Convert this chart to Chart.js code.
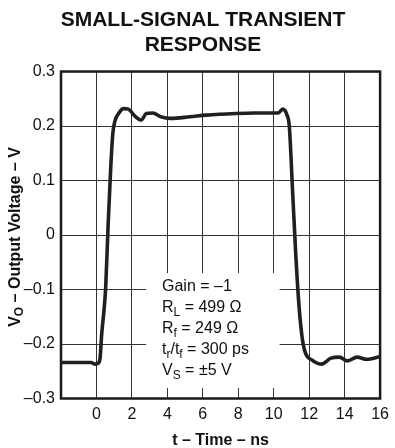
<!DOCTYPE html>
<html>
<head>
<meta charset="utf-8">
<script src="https://cdn.jsdelivr.net/npm/chart.js@4"></script>
<style>
  html, body { margin: 0; padding: 0; background: #fff; }
  #wrap { width: 395px; height: 448px; position: relative; }
</style>
</head>
<body>
<div id="wrap"><canvas id="chart-transient"></canvas></div>
<script>
// Small-signal transient response
const titleLines = ['SMALL-SIGNAL TRANSIENT', 'RESPONSE'];

// time (ns) and output voltage (V)
const timeNs = [-2, -1, -0.3, -0.1, 0.05, 0.19, 0.3, 0.42, 0.52, 0.66, 0.8, 0.92, 1.05, 1.25, 1.52, 1.8, 2.17, 2.53, 2.81, 3.18, 3.63, 4.18, 5.28, 6.2, 7.85, 8.95, 10.24, 10.51, 10.75, 10.88, 11.06, 11.25, 11.43, 11.61, 11.75, 11.89, 12.13, 12.68, 13.23, 13.7, 14.16, 14.7, 15.24, 16];
const vOut   = [-0.234, -0.234, -0.234, -0.237, -0.236, -0.229, -0.18, -0.14, -0.097, 0.02, 0.12, 0.185, 0.21, 0.223, 0.232, 0.231, 0.218, 0.211, 0.223, 0.224, 0.217, 0.214, 0.217, 0.22, 0.223, 0.224, 0.224, 0.231, 0.22, 0.199, 0.083, -0.04, -0.132, -0.19, -0.213, -0.223, -0.229, -0.237, -0.226, -0.224, -0.231, -0.224, -0.228, -0.223];

const xTickValues = [-2, 0, 2, 4, 6, 8, 10, 12, 14, 16];
const xTickLabels = ['', '0', '2', '4', '6', '8', '10', '12', '14', '16'];
const yTickValues = [-0.3, -0.2, -0.1, 0, 0.1, 0.2, 0.3];
const yTickLabels = ['\u20130.3', '\u20130.2', '\u20130.1', '0', '0.1', '0.2', '0.3'];

const xTitle = 't \u2013 Time \u2013 ns';
const yTitle = [{ t: 'V' }, { t: 'O', sub: true }, { t: ' \u2013 Output Voltage \u2013 V' }];

// test conditions printed inside the plot
const noteLines = [
    [{ t: 'Gain = \u20131' }],
    [{ t: 'R' }, { t: 'L', sub: true }, { t: ' = 499 \u03A9' }],
    [{ t: 'R' }, { t: 'f', sub: true }, { t: ' = 249 \u03A9' }],
    [{ t: 't' }, { t: 'r', sub: true }, { t: '/t' }, { t: 'f', sub: true }, { t: ' = 300 ps' }],
    [{ t: 'V' }, { t: 'S', sub: true }, { t: ' = \u00B15 V' }]
];

const FONT = "'Liberation Sans', Arial, Helvetica, sans-serif";
Chart.defaults.font.family = FONT;
Chart.defaults.color = '#000';

// draws text made of normal + subscript pieces, returns width
function drawRich(ctx, parts, x, y, size, weight, measureOnly) {
    let cx = x;
    parts.forEach(p => {
        const s = p.sub ? Math.round(size * 0.75) : size;
        ctx.font = `${weight} ${s}px ${FONT}`;
        if (!measureOnly) ctx.fillText(p.t, cx, p.sub ? y + size * 0.28 : y);
        cx += ctx.measureText(p.t).width;
    });
    return cx - x;
}

const frameAndNotes = {
    id: 'frameAndNotes',
    beforeDatasetsDraw(chart) {
        const { ctx, chartArea: a, scales: { x, y } } = chart;
        ctx.save();
        // white panel that cuts the grid behind the notes
        const bx0 = x.getPixelForValue(2.8), bx1 = x.getPixelForValue(10.33);
        const by0 = y.getPixelForValue(-0.07), by1 = y.getPixelForValue(-0.281);
        ctx.fillStyle = '#fff';
        ctx.fillRect(bx0, by0, bx1 - bx0, by1 - by0);

        ctx.fillStyle = '#111';
        ctx.textBaseline = 'middle';
        ctx.textAlign = 'left';
        noteLines.forEach((line, i) => {
            drawRich(ctx, line, 162, 287 + i * 21, 16, 'normal');
        });

        // plot frame
        ctx.strokeStyle = '#1a1a1a';
        ctx.lineWidth = 2.5;
        ctx.strokeRect(a.left, a.top, a.right - a.left, a.bottom - a.top);
        ctx.restore();
    },
    afterDraw(chart) {
        const { ctx, chartArea: a } = chart;
        ctx.save();
        ctx.fillStyle = '#111';
        ctx.textBaseline = 'middle';
        ctx.textAlign = 'center';
        ctx.font = `bold 16px ${FONT}`;
        ctx.fillText(xTitle, (a.left + a.right) / 2, 440.5);

        ctx.translate(15.5, 237);
        ctx.rotate(-Math.PI / 2);
        ctx.textAlign = 'left';
        const w = drawRich(ctx, yTitle, 0, 0, 16, 'bold', true);
        drawRich(ctx, yTitle, -w / 2, 0, 16, 'bold');
        ctx.restore();
    }
};

const ctx = document.getElementById('chart-transient');
new Chart(ctx, {
    type: 'scatter',
    data: {
        datasets: [{
            data: timeNs.map((t, i) => ({ x: t, y: vOut[i] })),
            showLine: true,
            borderColor: '#231f20',
            borderWidth: 3.6,
            pointRadius: 0,
            cubicInterpolationMode: 'monotone',
            fill: false
        }]
    },
    options: {
        responsive: true,
        maintainAspectRatio: false,
        animation: false,
        devicePixelRatio: 1,
        layout: { padding: { left: 18, right: 7, top: 0, bottom: 0 } },
        plugins: {
            legend: { display: false },
            tooltip: { enabled: false },
            title: {
                display: true,
                text: titleLines,
                color: '#111',
                font: { size: 21, weight: 'bold', lineHeight: 1.17 },
                padding: { top: 8.2, bottom: 14.2 }
            }
        },
        scales: {
            x: {
                type: 'linear',
                min: -2,
                max: 16,
                afterBuildTicks: s => { s.ticks = xTickValues.map(v => ({ value: v })); },
                afterFit: s => { s.height = 49.5; },
                ticks: {
                    callback: (v, i) => xTickLabels[i],
                    font: { size: 16 },
                    color: '#111',
                    padding: 6,
                    maxRotation: 0,
                    autoSkip: false
                },
                grid: { color: '#333', lineWidth: 1, drawTicks: false },
                border: { display: false }
            },
            y: {
                type: 'linear',
                min: -0.3,
                max: 0.3,
                afterBuildTicks: s => { s.ticks = yTickValues.map(v => ({ value: v })); },
                afterFit: s => { s.width = 43; },
                ticks: {
                    callback: (v, i) => yTickLabels[i],
                    font: { size: 16 },
                    color: '#111',
                    padding: 6,
                    autoSkip: false
                },
                grid: { color: '#333', lineWidth: 1, drawTicks: false },
                border: { display: false }
            }
        }
    },
    plugins: [frameAndNotes]
});
</script>
</body>
</html>
